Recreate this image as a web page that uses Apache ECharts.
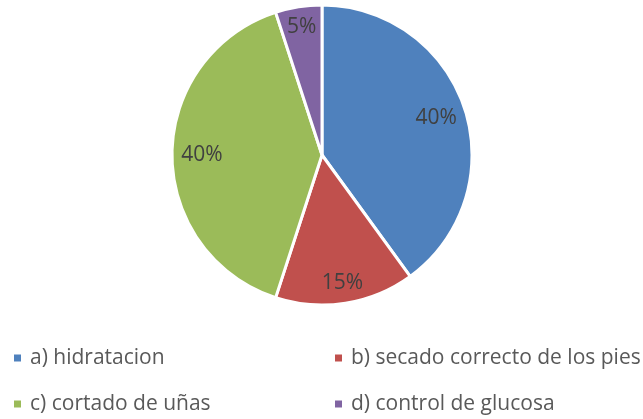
<!DOCTYPE html>
<html>
<head>
<meta charset="utf-8">
<script src="https://cdn.jsdelivr.net/npm/echarts@6/dist/echarts.min.js"></script>
<style>
  html, body { margin: 0; padding: 0; background: #fff; }
  #chart { width: 643px; height: 419px; }
</style>
</head>
<body>
<div id="chart"></div>
<script>
const categories = ['a) hidratacion', 'b) secado correcto de los pies', 'c) cortado de uñas', 'd) control de glucosa']
const values = [40, 15, 40, 5]
const colors = ['#4F81BD', '#C0504D', '#9BBB59', '#8064A2']

const font = '"Open Sans", "Liberation Sans", sans-serif'
const pieData = categories.map((name, i) => ({ name: name, value: values[i], itemStyle: { color: colors[i] } }))

// labels: big slices sit a bit further in than small ones
function labelRing(r0, big) {
  return {
    type: 'pie',
    silent: true,
    center: [322, 155],
    radius: [r0, 150],
    startAngle: 90,
    clockwise: true,
    data: categories.map((name, i) => ({ name: name, value: values[i] })),
    itemStyle: { color: 'rgba(0,0,0,0)', borderWidth: 0 },
    label: {
      show: true,
      position: 'inside',
      fontFamily: font,
      fontSize: 21,
      color: '#404040',
      formatter: p => ((p.value >= 20) === big ? p.value + '%' : '')
    },
    labelLine: { show: false },
    emphasis: { disabled: true },
    tooltip: { show: false }
  }
}

function legendColumn(left, names) {
  return {
    orient: 'vertical',
    left: left,
    top: 340,
    height: 100,
    data: names,
    icon: 'rect',
    itemWidth: 9,
    itemHeight: 9,
    itemGap: 20,
    textStyle: {
      fontFamily: font,
      fontSize: 21,
      color: '#595959',
      lineHeight: 26,
      padding: [0, 0, 0, 3]
    }
  }
}

const chart = echarts.init(document.getElementById('chart'))
chart.setOption({
  animation: false,
  legend: [
    legendColumn(7, [categories[0], categories[2]]),
    legendColumn(328, [categories[1], categories[3]])
  ],
  series: [
    {
      type: 'pie',
      center: [322, 155],
      radius: [0, 150],
      startAngle: 90,
      clockwise: true,
      data: pieData,
      itemStyle: { borderColor: '#fff', borderWidth: 3 },
      label: { show: false },
      labelLine: { show: false }
    },
    labelRing(84, true),
    labelRing(104, false)
  ]
})
</script>
</body>
</html>
